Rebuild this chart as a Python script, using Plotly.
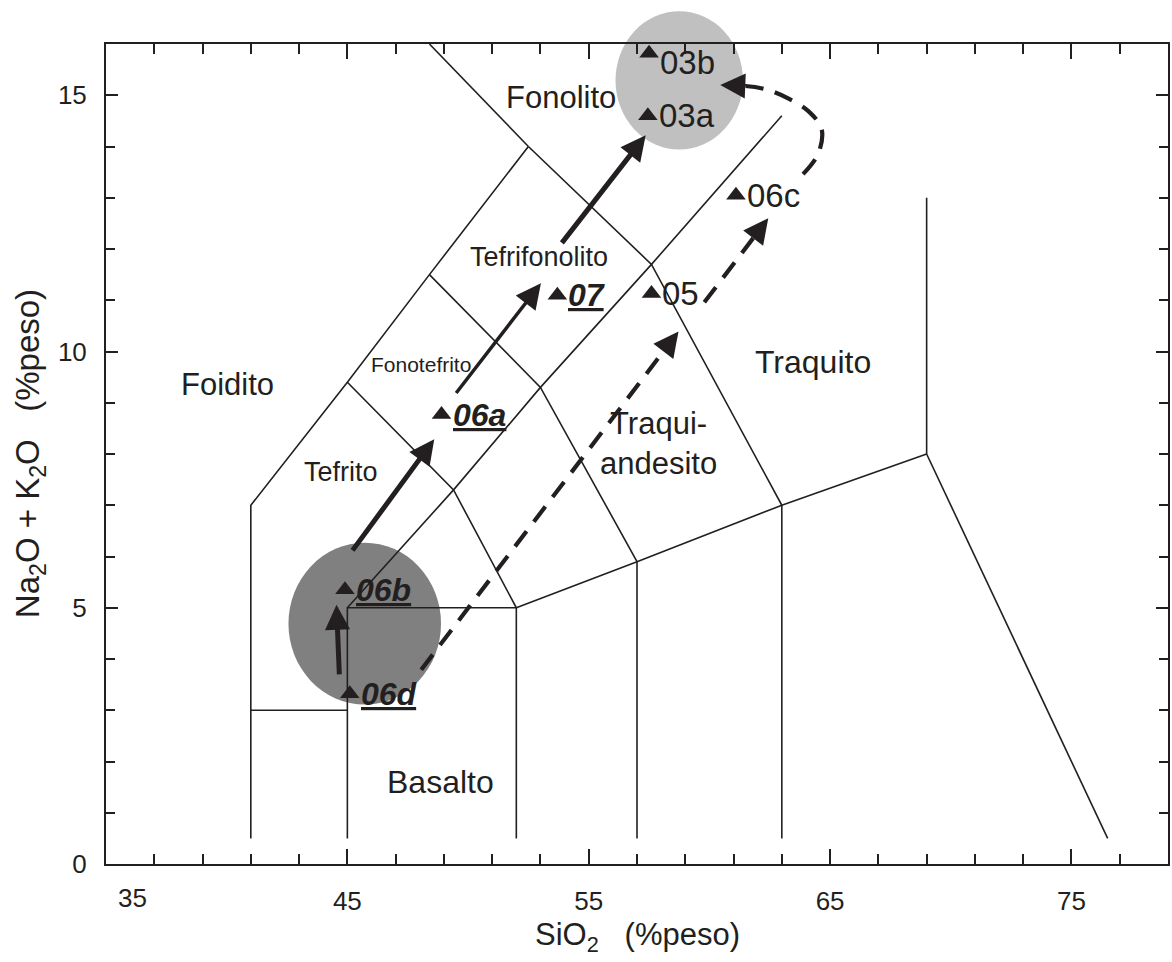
import plotly.graph_objects as go

# ---------------- data ----------------
X_RANGE = [35, 79]
Y_RANGE = [0, 16]

# TAS field boundaries (SiO2, Na2O+K2O), one polyline per list entry
boundary_x = [
    [41, 41, 45, 48.4, 52.5],
    [52.5, 48.4],
    [41, 45],
    [45, 45, 52, 52],
    [57, 57],
    [63, 63],
    [52, 57, 63, 69],
    [69, 69],
    [69, 76.5],
    [45, 49.4, 53, 57.6, 63],
    [45, 49.4, 52],
    [48.4, 53, 57],
    [52.5, 57.6, 63],
]
boundary_y = [
    [0.5, 7, 9.4, 11.5, 14],
    [14, 16],
    [3, 3],
    [0.5, 5, 5, 0.5],
    [0.5, 5.9],
    [0.5, 7],
    [5, 5.9, 7, 8],
    [8, 13],
    [8, 0.5],
    [5, 7.3, 9.3, 11.7, 14.6],
    [9.4, 7.3, 5],
    [11.5, 9.3, 5.9],
    [14, 11.7, 7],
]

field_names = ["Fonolito", "Tefrifonolito", "Fonotefrito", "Foidito", "Tefrito",
               "Traqui-<br>andesito", "Traquito", "Basalto"]
field_x = [53.85, 52.95, 48.05, 40.05, 44.75, 57.9, 64.3, 48.85]
field_y = [14.95, 11.85, 9.75, 9.35, 7.65, 8.2, 9.8, 1.6]

sample_names = ["03b", "03a", "06c", "05", "07", "06a", "06b", "06d"]
sample_sio2 = [57.5, 57.45, 61.1, 57.6, 53.7, 48.9, 44.9, 45.1]
sample_alk = [15.82, 14.6, 13.05, 11.13, 11.1, 8.77, 5.35, 3.32]
sample_emph = [False, False, False, False, True, True, True, True]

# grey groupings (centre x, centre y, half-width, half-height) in data units
group_cx = [58.75, 45.72]
group_cy = [15.29, 4.69]
group_rx = [2.64, 3.16]
group_ry = [1.35, 1.58]
group_col = ["#c0c0c0", "#808080"]

# solid evolution arrows (from -> to)
solid_from_x = [45.17, 49.46, 53.84, 44.67]
solid_from_y = [6.09, 9.16, 12.09, 3.67]
solid_to_x = [48.6, 53.02, 57.36, 44.55]
solid_to_y = [8.29, 11.33, 14.22, 5.06]
solid_w = [5, 3.5, 5, 5]

# dashed evolution paths (last point = arrow tip)
dash_x = [
    [48.06, 58.72],
    [59.79, 62.44],
    [63.88, 64.5, 64.65, 64.1, 63.26, 62.31, 61.49, 60.45],
]
dash_y = [
    [3.79, 10.39],
    [10.96, 12.6],
    [13.46, 13.85, 14.34, 14.69, 14.94, 15.12, 15.18, 15.2],
]

INK = "#231f20"
FONT = "Arial, 'Liberation Sans', sans-serif"

# ---------------- figure ----------------
W, H = 1172, 962
M = dict(l=106, r=2, t=44, b=98)
px_per_x = (W - M["l"] - M["r"]) / (X_RANGE[1] - X_RANGE[0])
px_per_y = (H - M["t"] - M["b"]) / (Y_RANGE[1] - Y_RANGE[0])

fig = go.Figure()

# boundaries
bx, by = [], []
for xs, ys in zip(boundary_x, boundary_y):
    bx += xs + [None]
    by += ys + [None]
fig.add_trace(go.Scatter(x=bx, y=by, mode="lines",
                         line=dict(color=INK, width=1.6), hoverinfo="skip"))

# ellipses (domain refs so they are not clipped by the frame)
def dx(v):
    return (v - X_RANGE[0]) / (X_RANGE[1] - X_RANGE[0])

def dy(v):
    return (v - Y_RANGE[0]) / (Y_RANGE[1] - Y_RANGE[0])

for cx, cy, rx, ry, col in zip(group_cx, group_cy, group_rx, group_ry, group_col):
    fig.add_shape(type="circle", xref="x domain", yref="y domain",
                  x0=dx(cx - rx), x1=dx(cx + rx), y0=dy(cy - ry), y1=dy(cy + ry),
                  fillcolor=col, line=dict(width=0), layer="below")

# dashed paths + heads
HEAD_LEN = 25  # px
DASH_W = 4.2
for xs, ys in zip(dash_x, dash_y):
    tx, ty = xs[-1], ys[-1]
    px, py = xs[-2], ys[-2]
    vx, vy = (tx - px) * px_per_x, (ty - py) * px_per_y
    n = (vx ** 2 + vy ** 2) ** 0.5
    bxp = tx - vx / n * HEAD_LEN / px_per_x
    byp = ty - vy / n * HEAD_LEN / px_per_y
    fig.add_trace(go.Scatter(x=xs[:-1] + [bxp], y=ys[:-1] + [byp], mode="lines",
                             line=dict(color=INK, width=DASH_W, dash="19px,12px",
                                       shape="spline", smoothing=1.0),
                             hoverinfo="skip"))
    fig.add_annotation(x=tx, y=ty, ax=bxp, ay=byp, xref="x", yref="y",
                       axref="x", ayref="y", text="", showarrow=True,
                       arrowhead=2, arrowsize=HEAD_LEN / 5 / DASH_W,
                       arrowwidth=DASH_W, arrowcolor=INK, standoff=0, startstandoff=0)

# solid arrows
for x0, y0, x1, y1, w in zip(solid_from_x, solid_from_y, solid_to_x, solid_to_y, solid_w):
    fig.add_annotation(x=x1, y=y1, ax=x0, ay=y0, xref="x", yref="y",
                       axref="x", ayref="y", text="", showarrow=True,
                       arrowhead=2, arrowsize=HEAD_LEN / 5 / w, arrowwidth=w,
                       arrowcolor=INK, standoff=0, startstandoff=0)

# samples
fig.add_trace(go.Scatter(x=sample_sio2, y=sample_alk, mode="markers",
                         marker=dict(symbol="triangle-up", size=17, color=INK),
                         hoverinfo="skip"))
for name, x, y, emph in zip(sample_names, sample_sio2, sample_alk, sample_emph):
    txt = f"<b><i><u>{name}</u></i></b>" if emph else name
    fig.add_annotation(x=x, y=y, text=txt, showarrow=False, xanchor="left",
                       yanchor="middle", xshift=9, yshift=-9 if name == "03b" else 0,
                       font=dict(family=FONT, size=32 if emph else 33, color=INK))

# field labels
field_sizes = [31, 27, 21, 31, 27, 31, 32, 32]
for name, x, y, s in zip(field_names, field_x, field_y, field_sizes):
    fig.add_annotation(x=x, y=y, text=name, showarrow=False, xanchor="center",
                       yanchor="middle", font=dict(family=FONT, size=s, color=INK))

# axis titles and the offset "35" label
fig.add_annotation(xref="paper", yref="paper", x=0.5, y=-(937 - 864) / 820,
                   text="SiO<sub>2</sub>\u00a0\u00a0\u00a0(%peso)", showarrow=False,
                   xanchor="center", yanchor="middle",
                   font=dict(family=FONT, size=31, color=INK))
fig.add_annotation(xref="paper", yref="paper", x=-(106 - 30) / 1064, y=0.5,
                   text="Na<sub>2</sub>O + K<sub>2</sub>O\u00a0\u00a0\u00a0(%peso)",
                   showarrow=False, textangle=-90, xanchor="center", yanchor="middle",
                   font=dict(family=FONT, size=33, color=INK))
fig.add_annotation(xref="x", yref="paper", x=36.1, y=-(898 - 864) / 820, text="35",
                   showarrow=False, xanchor="center", yanchor="middle",
                   font=dict(family=FONT, size=26, color=INK))

axis_common = dict(showline=True, linewidth=2, linecolor=INK, mirror="ticks",
                   ticks="inside", tickcolor=INK, tickwidth=1.5, showgrid=False,
                   zeroline=False, tickfont=dict(family=FONT, size=26, color=INK))
fig.update_xaxes(range=X_RANGE, tickvals=[45, 55, 65, 75], ticklen=15,
                 minor=dict(tick0=35, dtick=2, ticks="inside", ticklen=10,
                            tickwidth=1.5, tickcolor=INK),
                 ticklabelstandoff=13, **axis_common)
fig.update_yaxes(range=Y_RANGE, tickvals=[0, 5, 10, 15], ticklen=12,
                 minor=dict(tick0=0, dtick=1, ticks="inside", ticklen=9,
                            tickwidth=1.5, tickcolor=INK),
                 ticklabelstandoff=12, **axis_common)

fig.update_layout(width=W, height=H, margin=M, plot_bgcolor="white",
                  paper_bgcolor="white", showlegend=False,
                  font=dict(family=FONT, color=INK))

fig.write_html("out.html")
